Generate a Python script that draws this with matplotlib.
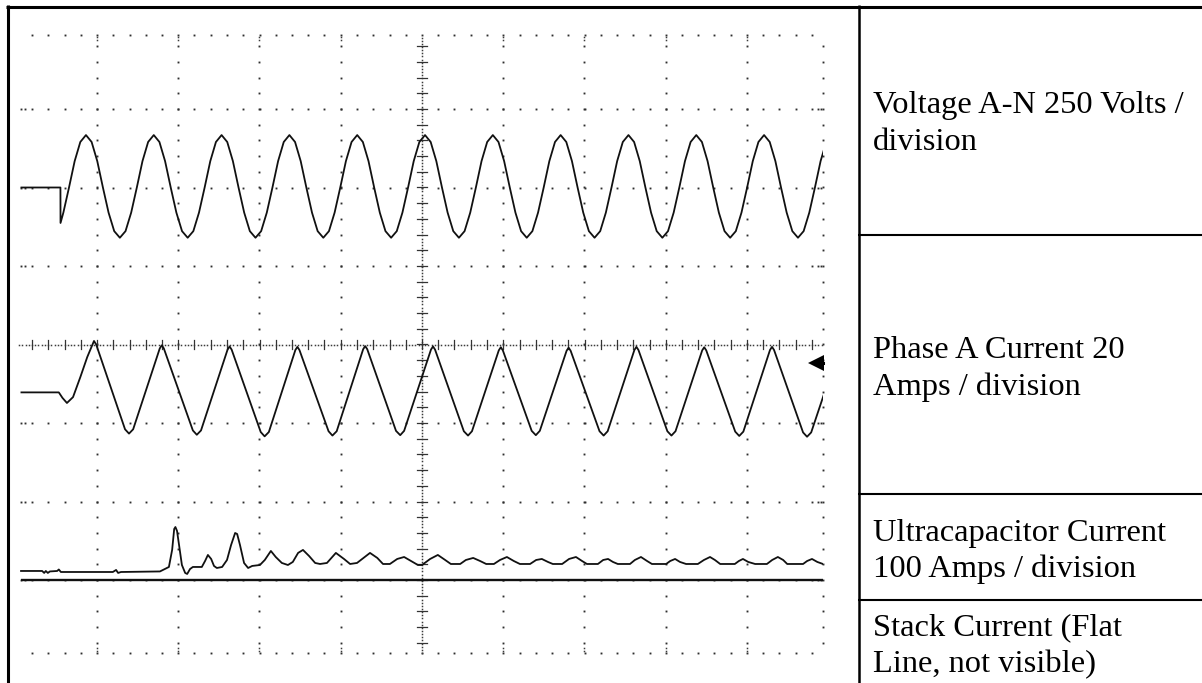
import matplotlib
matplotlib.use("Agg")
import matplotlib.pyplot as plt
import numpy as np

# scope settings
T_DIV = 20.0      # ms / div
V_DIV = 250.0     # CH1, V / div
IA_DIV = 20.0     # CH2, A / div
IUC_DIV = 100.0   # CH3, A / div
IST_DIV = 100.0   # CH4, A / div

# ground level of each channel, divisions from screen centre
V_GND = 2.0
IA_GND = -0.61
IUC_GND = -2.885
IST_GND = -3.0

# CH1 voltage A-N: pre-trigger part, then one sample every 1.391 ms
v_pre_t = [1.4, 11.0, 11.02]
v_pre = [0, 0, -113]
v_t0 = 11.72
v_dt = 1.391
v_samples = [
    -80, 0, 84, 145, 167, 145, 84, 0, -80, -139, -160, -139,
    -80, 0, 84, 145, 167, 145, 84, 0, -80, -139, -160, -139,
    -80, 0, 84, 145, 167, 145, 84, 0, -80, -139, -160, -139,
    -80, 0, 84, 145, 167, 145, 84, 0, -80, -139, -160, -139,
    -80, 0, 84, 145, 167, 145, 84, 0, -80, -139, -160, -139,
    -80, 0, 84, 145, 167, 145, 84, 0, -80, -139, -160, -139,
    -80, 0, 84, 145, 167, 145, 84, 0, -80, -139, -160, -139,
    -80, 0, 84, 145, 167, 145, 84, 0, -80, -139, -160, -139,
    -80, 0, 84, 145, 167, 145, 84, 0, -80, -139, -160, -139,
    -80, 0, 84, 145, 167, 145, 84, 0, -80, -139, -160, -139,
    -80, 0, 84, 145, 167, 145, 84, 0, -80, -139, -160, -139,
    -80, 0, 84, 145,
]

# CH2 phase A current (ms, A)
ia_t = [1.4, 10.6, 11.5, 12.6, 14.1, 15.9, 17.6, 19.26, 19.8,
        26.9, 27.88, 28.9, 35.45, 35.95, 36.45,
        43.6, 44.57, 45.6, 52.14, 52.64, 53.14,
        60.3, 61.26, 62.3, 68.83, 69.33, 69.83,
        77.0, 77.95, 79.0, 85.52, 86.02, 86.52,
        93.6, 94.64, 95.6, 102.21, 102.71, 103.21,
        110.3, 111.33, 112.3, 118.9, 119.4, 119.9,
        127.0, 128.02, 129.0, 135.59, 136.09, 136.59,
        143.7, 144.71, 145.7, 152.28, 152.78, 153.28,
        160.4, 161.4, 162.4, 168.97, 169.47, 169.97,
        177.1, 178.09, 179.1, 185.66, 186.16, 186.66,
        193.8, 194.78, 195.8, 202.85]
ia = [0, 0, -1.4, -2.7, -1.2, 3.9, 9.0, 13.1, 12.2,
      -9.4, -10.5, -9.4, 11.2, 12.0, 11.2,
      -9.7, -10.8, -9.7, 10.9, 11.7, 10.9,
      -10.1, -11.2, -10.1, 10.8, 11.6, 10.8,
      -9.9, -11.0, -9.9, 11.0, 11.8, 11.0,
      -9.8, -10.9, -9.8, 10.9, 11.7, 10.9,
      -9.9, -11.0, -9.9, 10.7, 11.5, 10.7,
      -9.8, -10.9, -9.8, 10.6, 11.4, 10.6,
      -9.9, -11.0, -9.9, 10.8, 11.6, 10.8,
      -9.9, -11.0, -9.9, 10.7, 11.5, 10.7,
      -10.0, -11.1, -10.0, 10.8, 11.6, 10.8,
      -10.2, -11.3, -10.2, 11.6]

# CH3 ultracapacitor current (ms, A)
iuc_t = [1.3, 6.5, 7.0, 7.4, 7.9, 8.4, 10.2, 10.6, 11.1, 11.6, 23.9, 24.7,
         25.2, 25.9, 35.5, 36.7, 37.7, 38.5, 39.0, 39.3, 39.7, 40.2, 40.9,
         41.7, 42.2, 42.9, 43.6, 45.8, 46.6, 47.3, 48.1, 48.8, 49.5, 50.8,
         52.0, 53.0, 54.0, 54.5, 55.2, 56.2, 57.2, 58.2, 60.1, 61.3, 62.8,
         64.0, 65.5, 67.0, 68.2, 69.5, 70.7, 72.2, 73.7, 74.9, 76.6, 78.8,
         80.8, 82.3, 84.0, 87.2, 89.0, 90.4, 92.1, 93.9, 95.6, 97.3, 99.0,
         100.0, 102.0, 103.9, 105.7, 107.1, 109.4, 110.8, 112.6, 114.3,
         115.8, 117.7, 119.2, 120.9, 122.6, 124.1, 126.6, 128.1, 129.5,
         131.0, 132.2, 134.5, 136.2, 137.9, 139.4, 140.6, 143.3, 144.6,
         145.8, 147.0, 148.2, 151.2, 152.4, 153.9, 155.4, 156.6, 160.1,
         161.1, 162.3, 163.5, 165.0, 167.9, 169.4, 170.9, 172.1, 173.4,
         177.0, 178.0, 179.0, 180.3, 182.0, 184.9, 186.2, 187.6, 188.9,
         189.9, 193.8, 194.8, 196.0, 197.3, 198.7]
iuc = [0, 0, -2.5, 0, -2.5, -0.6, 0, 1.9, -1.3, -1.3, -1.3, 1.3,
       -2.5, -1.3, -0.6, 2.5, 5.1, 27, 53.5, 56, 51, 33, 7.6,
       -2.5, -3.8, 2.5, 5.1, 5.1, 12.7, 20.4, 15.3, 6.4, 3.8, 5.1,
       14, 33, 48.4, 47.1, 33, 10.2, 3.8, 6.4, 7.6, 14, 25.5,
       17.8, 10.2, 7.6, 11.5, 23, 26.8, 19.1, 10.2, 8.9, 10.2, 23,
       15.3, 8.9, 10.2, 23, 16.6, 8.9, 8.9, 15.3, 17.8, 12.7, 7.6,
       7.6, 15.3, 20.4, 14, 8.9, 8.9, 14, 16.6, 12.7,
       8.9, 8.9, 14, 17.8, 12.7, 8.9, 8.9, 14, 15.3,
       11.5, 8.9, 8.9, 15.3, 17.8, 12.7, 8.9, 8.9, 14,
       15.3, 11.5, 8.9, 8.9, 14, 17.8, 12.7, 8.9, 8.9,
       12.7, 15.3, 11.5, 8.9, 8.9, 14, 17.8, 14, 8.9,
       8.9, 12.7, 15.3, 11.5, 8.9, 8.9, 14, 17.8, 14,
       8.9, 8.9, 12.7, 15.3, 11.5, 8.9]

# CH4 stack current, flat
ist_t = [1.4, 198.7]
ist = [0, 0]

# marker on the right edge of the screen (divisions)
marker_pos = (9.85, -0.236)

cell_edges = [5, 235, 494, 600, 683]
cell_labels = [
    ["Voltage A-N 250 Volts /", "division"],
    ["Phase A Current 20", "Amps / division"],
    ["Ultracapacitor Current", "100 Amps / division"],
    ["Stack Current (Flat", "Line, not visible)"],
]

W, H = 1202, 683
fig = plt.figure(figsize=(W / 100, H / 100), dpi=100)
fig.patch.set_facecolor("white")

# page layer in pixel coordinates
bg = fig.add_axes([0, 0, 1, 1])
bg.set_xlim(0, W)
bg.set_ylim(H, 0)
bg.axis("off")

bg.plot([6, W], [6.5, 6.5], color="black", lw=2.2, solid_capstyle="butt")
bg.plot([8, 8], [5, H], color="black", lw=2.2, solid_capstyle="butt")
bg.plot([858.5, 858.5], [5, H], color="black", lw=1.8, solid_capstyle="butt")
for yy in cell_edges[1:-1]:
    bg.plot([858, W], [yy, yy], color="black", lw=1.5, solid_capstyle="butt")

for (top, bot), lines in zip(zip(cell_edges[:-1], cell_edges[1:]), cell_labels):
    mid = (top + bot) / 2
    n = len(lines)
    for j, txt in enumerate(lines):
        base = mid - (n - 1) / 2 * 37 + j * 37 + 12
        bg.text(873, base, txt, fontsize=23.4, family="Liberation Serif",
                va="baseline", ha="left", color="black")

# scope screen
x0, x1 = 15.75, 822.7
y0, y1 = 35.0, 653.0
ax = fig.add_axes([x0 / W, 1 - y1 / H, (x1 - x0) / W, (y1 - y0) / H])
ax.set_xlim(0, (x1 - x0) / 81.25)
ax.set_ylim((344.5 - y1) / 78.5, (344.5 - y0) / 78.5)
ax.axis("off")
ax.patch.set_alpha(0)

xmax = ax.get_xlim()[1]
ybot, ytop = ax.get_ylim()
dot = dict(ls="none", marker="s", ms=1.35, mew=0, color="#2e2e2e", clip_on=False)
fine = dict(ls="none", marker="s", ms=1.1, mew=0, color="#3c3c3c", clip_on=False)

minor = np.arange(-3.8, 3.81, 0.2)
xminor = np.arange(0.2, xmax, 0.2)
for xc in [1, 2, 3, 4, 6, 7, 8, 9]:
    ax.plot(np.full(minor.size, xc), minor, **dot)
    edge = np.array([ytop - 0.03, ytop - 0.06, ybot + 0.03, ybot + 0.06])
    ax.plot(np.full(edge.size, xc), edge, **fine)
ax.plot(np.full(minor.size, xmax), minor, **dot)
for yr in [-3, -2, -1, 1, 2, 3]:
    ax.plot(xminor, np.full(xminor.size, yr), **dot)
    ax.plot([0.07, 0.11, 9.87, 9.91], [yr] * 4, **dot)
for yr in [ybot, ytop]:
    ax.plot(xminor, np.full(xminor.size, yr), **dot)

# centre axes with fine dots and minor ticks
yfine = np.arange(ybot, ytop, 0.04)
ax.plot(np.full(yfine.size, 5.0), yfine, **fine)
xfine = np.arange(0.04, xmax, 0.04)
ax.plot(xfine, np.zeros(xfine.size), **fine)
for yy in minor:
    ax.plot([4.94, 5.06], [yy, yy], color="#333333", lw=0.9)
for xx in xminor:
    ax.plot([xx, xx], [-0.06, 0.06], color="#333333", lw=0.9)

# traces
trace = dict(color="#111111", lw=1.3, solid_joinstyle="round")
v_t = np.concatenate([v_pre_t, v_t0 + v_dt * np.arange(len(v_samples))])
v = np.concatenate([v_pre, v_samples])
ax.plot(v_t / T_DIV, V_GND + v / V_DIV, **trace)
ax.plot(np.array(ia_t) / T_DIV, IA_GND + np.array(ia) / IA_DIV, **trace)
ax.plot(np.array(iuc_t) / T_DIV, IUC_GND + np.array(iuc) / IUC_DIV, **trace)
ax.plot(np.array(ist_t) / T_DIV, IST_GND + np.array(ist) / IST_DIV,
        color="#111111", lw=1.7, solid_capstyle="butt")

ax.plot([marker_pos[0], xmax], [marker_pos[1], marker_pos[1]], color="black",
        lw=2.2, clip_on=False)
ax.plot(*marker_pos, marker="<", ms=11, color="black", mew=0, clip_on=False)

fig.savefig("out.png", dpi=100, facecolor="white")
